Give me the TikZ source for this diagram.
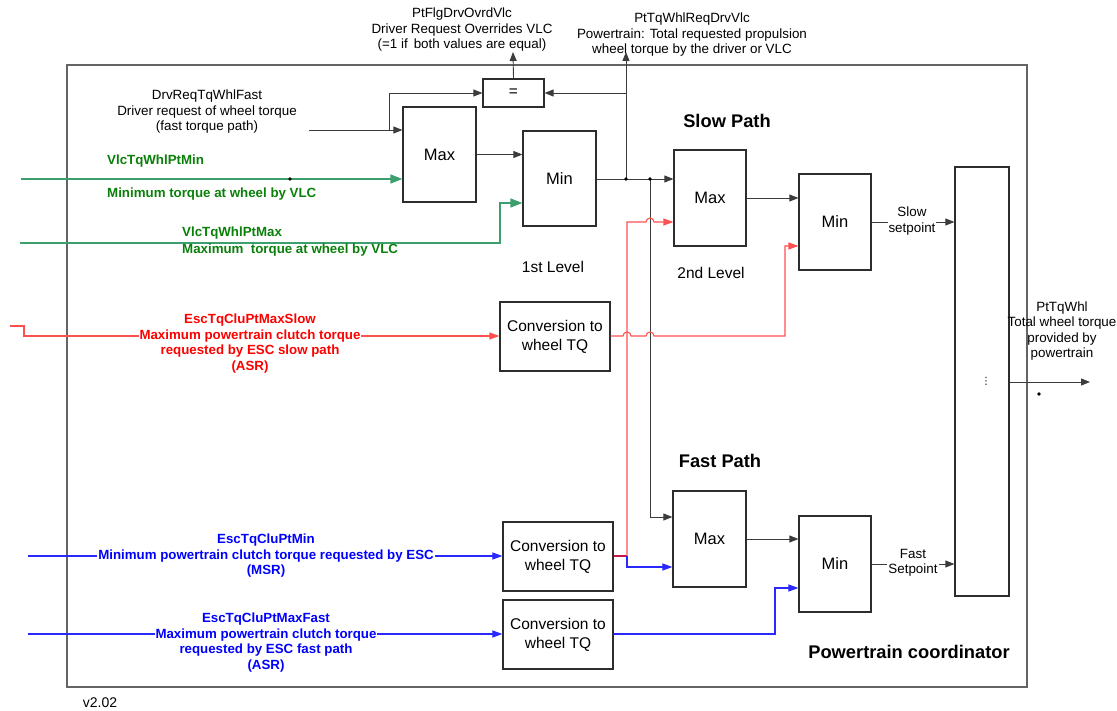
\documentclass[tikz,border=0pt]{standalone}
\usepackage{fontspec}
\setmainfont{Liberation Sans}
\newfontfamily\symfont{DejaVu Sans}
\usetikzlibrary{arrows.meta}
\definecolor{boxgray}{RGB}{45,45,45}
\definecolor{wiregray}{RGB}{60,60,60}
\definecolor{framegray}{RGB}{100,100,100}
\definecolor{gline}{RGB}{60,160,110}
\definecolor{gtext}{RGB}{10,128,10}
\definecolor{rline}{RGB}{255,80,80}
\definecolor{rtext}{RGB}{255,0,0}
\definecolor{bline}{RGB}{40,40,255}
\definecolor{btext}{RGB}{0,0,255}
\definecolor{mixline}{RGB}{200,20,70}
\begin{document}
\begin{tikzpicture}[x=1pt,y=1pt,
  font=\fontsize{13.4}{15.5}\selectfont,
  blk/.style={draw=boxgray, line width=1.2pt, minimum width=73pt, minimum height=95pt,
    inner sep=0pt, font=\fontsize{16.5}{19}\selectfont},
  convbox/.style={blk, minimum width=110pt, minimum height=69pt, align=center,
    font=\fontsize{15.5}{19}\selectfont},
  wire/.style={draw=wiregray, line width=0.9pt},
  arr/.style={-{Triangle[length=9pt,width=7pt]}},
  gwire/.style={draw=gline, line width=1.3pt},
  garr/.style={-{Triangle[length=12pt,width=9pt]}},
  rwire/.style={draw=rline, line width=1.1pt},
  rarr/.style={-{Triangle[length=10pt,width=7pt]}},
  bwire/.style={draw=bline, line width=1.1pt},
  barr/.style={-{Triangle[length=10pt,width=7pt]}},
  lbl/.style={align=center, inner sep=1pt},
  glbl/.style={text=gtext, font=\bfseries\fontsize{13.3}{15.5}\selectfont, inner sep=0pt, anchor=west},
  rlbl/.style={align=center, text=rtext, font=\bfseries\fontsize{13.3}{15.5}\selectfont, fill=white, inner sep=1pt},
  blbl/.style={align=center, text=btext, font=\bfseries\fontsize{13.3}{15.5}\selectfont, fill=white, inner sep=1pt},
  head/.style={font=\bfseries\fontsize{18.3}{21}\selectfont},
  lvl/.style={font=\fontsize{15.5}{18}\selectfont},
  dot/.style={circle, fill=black, inner sep=0pt, minimum size=3.6pt}
]
\useasboundingbox (0,0) rectangle (1117,-711);

% outer frame of the coordinator
\node[draw=framegray, line width=1.5pt, minimum width=960pt, minimum height=622pt,
  inner sep=0pt] (frame) at (547,-376) {};

% blocks
\node[draw=boxgray, line width=1.2pt, minimum width=61pt, minimum height=28pt,
  inner sep=0pt, font=\fontsize{15.5}{18}\selectfont] (eq) at (513.5,-93) {=};
\node[blk] (max1) at (439.5,-154.5) {Max};
\node[blk] (min1) at (559.5,-178.5) {Min};
\node[blk, minimum width=72pt, minimum height=96pt] (max2) at (710,-198) {Max};
\node[blk, minimum width=72pt, minimum height=96pt] (min2) at (835,-222) {Min};
\node[blk, minimum width=73pt, minimum height=96pt] (fmax) at (709.5,-539) {Max};
\node[blk, minimum width=72pt, minimum height=96pt] (fmin) at (835,-564) {Min};
\node[convbox] (conv1) at (555,-336.5) {Conversion to\\wheel TQ};
\node[convbox] (conv2) at (558,-556.5) {Conversion to\\wheel TQ};
\node[convbox] (conv3) at (558,-634.5) {Conversion to\\wheel TQ};
\node[draw=boxgray, line width=1.2pt, minimum width=54pt, minimum height=429pt,
  inner sep=0pt] (big) at (982,-381.5) {};
\node[font=\symfont\fontsize{10}{10}\selectfont, inner sep=0pt] (ell) at (986,-381) {⋮};

% free ends and junctions
\coordinate (topflg) at (513,-52);
\coordinate (topreq) at (626,-52);
\coordinate (j1) at (626,-179);
\coordinate (j2) at (650,-179);
\coordinate (fastin) at (650,-517);
\coordinate (drvin) at (309,-130);
\coordinate (b1) at (389,-130);
\coordinate (gin1) at (21,-179);
\coordinate (gdot) at (290,-179);
\coordinate (gin2) at (20,-243);
\coordinate (gk) at (500,-203);
\coordinate (rin) at (10,-326);
\coordinate (rk) at (24,-336);
\coordinate (bin1) at (28,-556);
\coordinate (bin2) at (28,-634);
\coordinate (split) at (627,-556);
\coordinate (rup) at (627,-222);
\coordinate (bdn) at (627,-567);
\coordinate (rr) at (785,-246);
\coordinate (bk) at (775,-588);
\coordinate (out) at (1090,-382);
\coordinate (odot) at (1039,-394);

% driver request and equality check
\draw[wire, arr] (eq.north) -- (topflg);
\draw[wire, arr] (drvin) -- (max1.west |- drvin);
\draw[wire, arr] (b1) |- (eq.west);
\draw[wire, arr] (max1.east) -- (min1.west |- max1.east);
\draw[wire, arr] (min1.east |- j1) -- (max2.west |- j1);
\draw[wire, arr] (j1) -- (topreq);
\draw[wire, arr] (j1 |- eq.east) -- (eq.east);
\draw[wire, arr] (j2) |- (fmax.west |- fastin);
\node[dot] at (j1) {};
\node[dot] at (j2) {};

% VLC inputs
\draw[gwire, garr] (gin1) -- (max1.west |- gin1);
\node[dot] at (gdot) {};
\draw[gwire, garr] (gin2) -| (gk) -- (min1.west |- gk);

% second level, slow path
\draw[wire, arr] (max2.east) -- (min2.west |- max2.east);
\draw[wire, arr] (min2.east) -- (big.west |- min2.east);
\node[lbl, fill=white, inner sep=1pt] (slowsp) at (912,-221) {Slow\\setpoint};

% fast path
\draw[wire, arr] (fmax.east) -- (fmin.west |- fmax.east);
\draw[wire, arr] (fmin.east) -- (big.west |- fmin.east);
\node[lbl, fill=white, inner sep=1pt] (fastsp) at (913,-563) {Fast\\Setpoint};

% output
\draw[wire, arr] (big.east |- out) -- (out);
\node[dot] at (odot) {};

% ESC slow path request
\draw[rwire, rarr] (rin) -- (rk |- rin) -- (rk) -- (conv1.west |- rk);
\node[rlbl] (rtxt) at (250,-343.5) {EscTqCluPtMaxSlow\\Maximum powertrain clutch torque\\requested by ESC slow path\\(ASR)};
\draw[rwire, rarr] (conv1.east |- rk) -- (623,-336) arc[start angle=180, end angle=0, radius=4]
  -- (646,-336) arc[start angle=180, end angle=0, radius=4] -- (rr |- rk) -- (rr) -- (min2.west |- rr);

% ESC minimum request (MSR), split to both paths
\draw[draw=mixline, line width=1.1pt] (conv2.east |- split) -- (split);
\draw[rwire, rarr] (split) -- (rup) -- (646,-222) arc[start angle=180, end angle=0, radius=4]
  -- (max2.west |- rup);
\draw[bwire, barr] (split) -- (bdn) -- (fmax.west |- bdn);
\draw[bwire, barr] (bin1) -- (conv2.west |- bin1);
\node[blbl] (b1txt) at (266,-556) {EscTqCluPtMin\\Minimum powertrain clutch torque requested by ESC\\(MSR)};

% ESC fast path request
\draw[bwire, barr] (bin2) -- (conv3.west |- bin2);
\node[blbl] (b2txt) at (266,-642.5) {EscTqCluPtMaxFast\\Maximum powertrain clutch torque\\requested by ESC fast path\\(ASR)};
\draw[bwire, barr] (conv3.east |- bin2) -| (bk) -- (fmin.west |- bk);

% signal labels
\node[lbl] (flg) at (462,-30) {PtFlgDrvOvrdVlc\\Driver Request Overrides VLC\\(=1 if\, both values are equal)};
\node[lbl] (req) at (692,-35) {PtTqWhlReqDrvVlc\\Powertrain: Total requested propulsion\\wheel torque by the driver or VLC};
\node[lbl] (drv) at (207,-112) {DrvReqTqWhlFast\\Driver request of wheel torque\\(fast torque path)};
\node[glbl] (g1a) at (107,-161) {VlcTqWhlPtMin};
\node[glbl] (g1b) at (107,-194) {Minimum torque at wheel by VLC};
\node[glbl] (g2a) at (182,-233) {VlcTqWhlPtMax};
\node[glbl] (g2b) at (182,-250) {Maximum~ torque at wheel by VLC};
\node[lbl] (tot) at (1062,-331) {PtTqWhl\\Total wheel torque\\provided by\\powertrain};

% headings
\node[head] (slowp) at (727,-121) {Slow Path};
\node[head] (fastp) at (720,-461) {Fast Path};
\node[lvl] (lv1) at (553,-267) {1st Level};
\node[lvl] (lv2) at (711,-273) {2nd Level};
\node[head] (ptc) at (909,-652) {Powertrain coordinator};
\node[font=\fontsize{14}{16}\selectfont] (ver) at (100,-703) {v2.02};
\end{tikzpicture}
\end{document}
